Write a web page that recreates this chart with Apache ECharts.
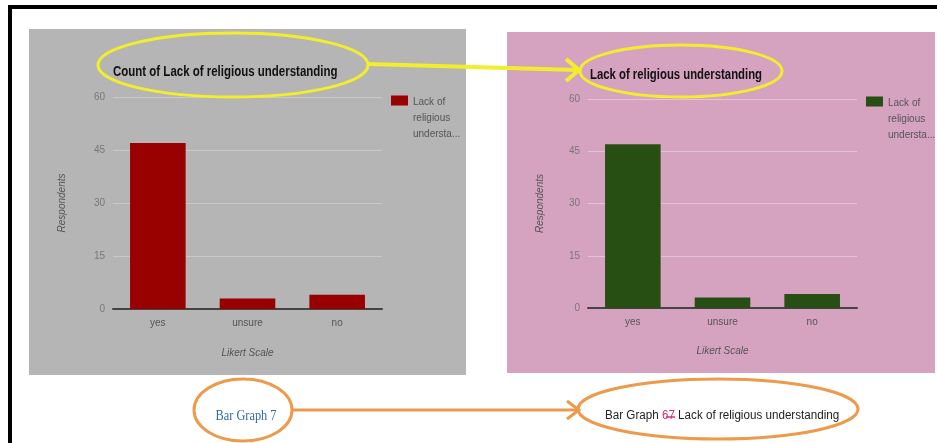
<!DOCTYPE html>
<html>
<head>
<meta charset="utf-8">
<script src="https://cdn.jsdelivr.net/npm/echarts@6/dist/echarts.min.js"></script>
<style>
html,body{margin:0;padding:0;background:#fff;}
#c{width:937px;height:443px;}
</style>
</head>
<body>
<div id="c"></div>
<script>
var categories = ['yes', 'unsure', 'no'];
var countSeriesValues = [47, 3, 4];
var lackSeriesValues = [47, 3, 4];
var yAxisMin = 0, yAxisMax = 60, yAxisStep = 15;
var leftTitle = 'Count of Lack of religious understanding';
var rightTitle = 'Lack of religious understanding';
var legendLabel = 'Lack of\nreligious\nundersta...';
var yName = 'Respondents';
var xName = 'Likert Scale';

var chart = echarts.init(document.getElementById('c'), null, {renderer: 'canvas'});

function yAx(gi, splitCol, gap) {
  return {
    type: 'value', gridIndex: gi, min: yAxisMin, max: yAxisMax, interval: yAxisStep,
    name: yName, nameLocation: 'middle', nameGap: gap, nameRotate: 90,
    nameTextStyle: {fontStyle: 'italic', fontSize: 10, color: '#555', fontFamily: 'Arial'},
    axisLine: {show: false}, axisTick: {show: false},
    axisLabel: {color: '#777', fontSize: 10, margin: 8, fontFamily: 'Arial'},
    splitLine: {lineStyle: {color: splitCol, width: 1}}
  };
}
function xAx(gi, gap) {
  return {
    type: 'category', gridIndex: gi, data: categories,
    name: xName, nameLocation: 'middle', nameGap: gap,
    nameTextStyle: {fontStyle: 'italic', fontSize: 10, color: '#555', fontFamily: 'Arial'},
    axisLine: {lineStyle: {color: '#444', width: 2}}, axisTick: {show: false},
    axisLabel: {color: '#555', fontSize: 10, margin: 9, fontFamily: 'Arial'}
  };
}
// legend swatch sits at the top of a tall icon box, aligned with the first text line
var legendIcon = 'path://M0,3H17V13H0Z M0,47.9H0.05V48H0Z';
function legend(name, left, top) {
  return {data: [name], left: left, top: top, padding: 0, orient: 'vertical', itemWidth: 17, itemHeight: 48,
    icon: legendIcon, itemGap: 4, formatter: function () { return legendLabel; },
    textStyle: {fontSize: 10, color: '#555', lineHeight: 16, fontFamily: 'Arial'}};
}

var option = {
  backgroundColor: '#ffffff',
  animation: false,
  grid: [
    {left: 113, top: 97, width: 269, height: 212},
    {left: 588, top: 99, width: 269, height: 209}
  ],
  xAxis: [xAx(0, 39), xAx(1, 38)],
  yAxis: [yAx(0, '#c9c9c9', 46), yAx(1, '#e3c3d5', 43)],
  legend: [legend(leftTitle, 391, 94), legend(rightTitle, 866, 95)],
  series: [
    {name: leftTitle, type: 'bar', xAxisIndex: 0, yAxisIndex: 0, data: countSeriesValues,
     barCategoryGap: '38%', itemStyle: {color: '#990000'}},
    {name: rightTitle, type: 'bar', xAxisIndex: 1, yAxisIndex: 1, data: lackSeriesValues,
     barCategoryGap: '38%', itemStyle: {color: '#274e13'}}
  ],
  graphic: [
    // frame
    {type: 'rect', z: -20, shape: {x: 8, y: 5, width: 929, height: 4}, style: {fill: '#000'}},
    {type: 'rect', z: -20, shape: {x: 8, y: 5, width: 4, height: 438}, style: {fill: '#000'}},
    // panels
    {type: 'rect', z: -10, shape: {x: 29, y: 29, width: 437, height: 346}, style: {fill: '#b5b5b5'}},
    {type: 'rect', z: -10, shape: {x: 507, y: 32, width: 428, height: 341}, style: {fill: '#d5a3bf'}},
    // titles
    {type: 'text', z: 10, x: 113, y: 72, scaleX: 0.82,
     style: {text: leftTitle, font: 'bold 14px Arial', fill: '#111', verticalAlign: 'middle'}},
    {type: 'text', z: 10, x: 590, y: 75, scaleX: 0.81,
     style: {text: rightTitle, font: 'bold 14px Arial', fill: '#111', verticalAlign: 'middle'}},
    // yellow annotations
    {type: 'ellipse', z: 100, shape: {cx: 233, cy: 65, rx: 135, ry: 32},
     style: {fill: 'none', stroke: '#f2ee2c', lineWidth: 3}},
    {type: 'ellipse', z: 100, shape: {cx: 681, cy: 71, rx: 101, ry: 26},
     style: {fill: 'none', stroke: '#f2ee2c', lineWidth: 3}},
    {type: 'line', z: 100, shape: {x1: 368, y1: 64, x2: 577, y2: 70},
     style: {stroke: '#f2ee2c', lineWidth: 4}},
    {type: 'polyline', z: 100, shape: {points: [[566, 59], [579, 70], [566, 81]]},
     style: {fill: 'none', stroke: '#f2ee2c', lineWidth: 4}},
    // orange annotations
    {type: 'ellipse', z: 100, shape: {cx: 243, cy: 410, rx: 49, ry: 31},
     style: {fill: 'none', stroke: '#ec9a4c', lineWidth: 3}},
    {type: 'ellipse', z: 100, shape: {cx: 718, cy: 409, rx: 140, ry: 30},
     style: {fill: 'none', stroke: '#ec9a4c', lineWidth: 3}},
    {type: 'line', z: 100, shape: {x1: 292, y1: 410, x2: 577, y2: 410},
     style: {stroke: '#ec9a4c', lineWidth: 3}},
    {type: 'polyline', z: 100, shape: {points: [[567, 401], [579, 410], [567, 419]]},
     style: {fill: 'none', stroke: '#ec9a4c', lineWidth: 3}},
    // captions
    {type: 'text', z: 10, x: 246, y: 416, scaleX: 0.88,
     style: {text: 'Bar Graph 7', font: '14px "Liberation Serif", "Times New Roman", serif', fill: '#2f6aa6',
             align: 'center', verticalAlign: 'middle'}},
    {type: 'text', z: 10, x: 605, y: 416, scaleX: 0.97,
     style: {text: '{a|Bar Graph }{m|67}{a| Lack of religious understanding}', verticalAlign: 'middle',
             rich: {a: {font: '12px Arial', fill: '#222'}, m: {font: '12px Arial', fill: '#d4307a'}}}},
    {type: 'line', z: 11, shape: {x1: 666, y1: 417, x2: 675, y2: 417},
     style: {stroke: '#d4307a', lineWidth: 1.5}}
  ]
};
chart.setOption(option);
</script>
</body>
</html>
